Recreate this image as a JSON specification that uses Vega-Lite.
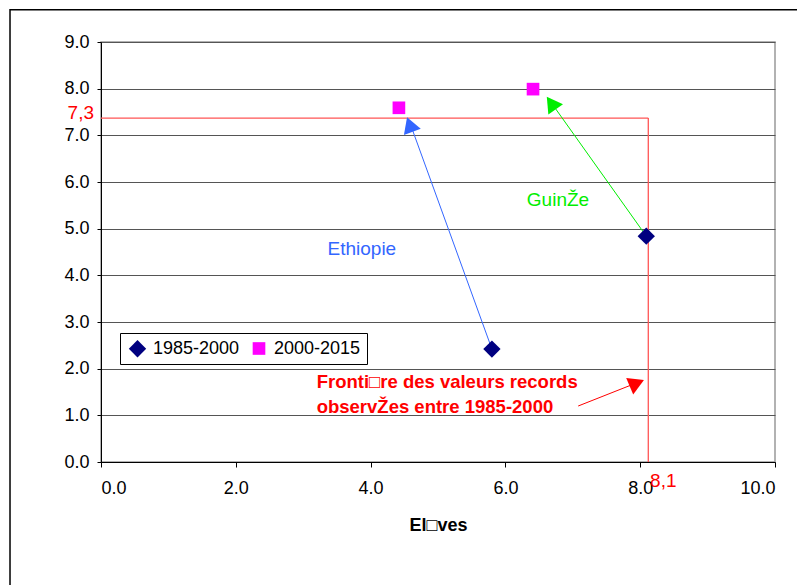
{
  "$schema": "https://vega.github.io/schema/vega-lite/v6.json",
  "width": 674,
  "height": 420,
  "autosize": {"type": "none"},
  "padding": {"left": 101, "top": 42, "right": 22, "bottom": 123},
  "background": "white",
  "config": {
    "font": "Liberation Sans",
    "view": {"stroke": "#999999", "strokeWidth": 1.5}
  },
  "datasets": {
    "pts": [
      {"pays": "Ethiopie", "period": "1985-2000", "x": 5.8, "y": 2.42},
      {"pays": "Ethiopie", "period": "2000-2015", "x": 4.42, "y": 7.59},
      {"pays": "Guinée", "period": "1985-2000", "x": 8.09, "y": 4.84},
      {"pays": "Guinée", "period": "2000-2015", "x": 6.41, "y": 7.99}
    ]
  },
  "layer": [
    {
      "data": {"values": [{"x1": -1.35, "x2": 11, "y1": -3, "y2": 9.69}]},
      "mark": {"type": "rect", "fill": null, "stroke": "#000", "strokeWidth": 1.5, "clip": false},
      "encoding": {
        "x": {"field": "x1", "type": "quantitative", "scale": {"domain": [0, 10], "nice": false},
          "axis": {"values": [0, 2, 4, 6, 8, 10], "format": ".1f", "grid": false, "tickSize": 5, "tickColor": "#000", "domainColor": "#000", "labelFont": "Liberation Sans", "labelFontSize": 18, "labelColor": "#000", "labelPadding": 12, "title": "El□ves", "titleFont": "Liberation Sans", "titleFontSize": 18, "titleFontWeight": "bold", "titleColor": "#000", "titlePadding": 19}},
        "x2": {"field": "x2"},
        "y": {"field": "y1", "type": "quantitative", "scale": {"domain": [0, 9], "nice": false},
          "axis": {"values": [0, 1, 2, 3, 4, 5, 6, 7, 8, 9], "format": ".1f", "grid": true, "gridColor": "#555", "gridWidth": 1, "tickSize": 4, "tickColor": "#000", "domainColor": "#000", "labelFont": "Liberation Sans", "labelFontSize": 18, "labelColor": "#000", "labelPadding": 8, "title": null}},
        "y2": {"field": "y2"}
      }
    },
    {
      "data": {"values": [{"x1": 0, "y1": 7.37, "x2": 8.12, "y2": 7.37}, {"x1": 8.12, "y1": 7.37, "x2": 8.12, "y2": 0}]},
      "mark": {"type": "rule", "color": "#FF5555", "strokeWidth": 1.3},
      "encoding": {
        "x": {"field": "x1", "type": "quantitative"},
        "y": {"field": "y1", "type": "quantitative"},
        "x2": {"field": "x2"},
        "y2": {"field": "y2"}
      }
    },
    {
      "data": {"values": [
        {"g": "Ethiopie", "x1": 5.8, "y1": 2.42, "x2": 4.6, "y2": 7.2},
        {"g": "Guinée", "x1": 8.09, "y1": 4.84, "x2": 6.7, "y2": 7.66},
        {"g": "Frontière", "x1": 7.08, "y1": 1.2, "x2": 7.92, "y2": 1.68}
      ]},
      "mark": {"type": "rule", "strokeWidth": 1},
      "encoding": {
        "x": {"field": "x1", "type": "quantitative"},
        "y": {"field": "y1", "type": "quantitative"},
        "x2": {"field": "x2"},
        "y2": {"field": "y2"},
        "stroke": {"field": "g", "type": "nominal", "scale": {"domain": ["Ethiopie", "Guinée", "Frontière"], "range": ["#3366FF", "#00EE00", "#FF0000"]}, "legend": null}
      }
    },
    {
      "data": {"values": [
        {"g": "Ethiopie", "x": 4.58, "y": 7.23, "ang": 340},
        {"g": "Guinée", "x": 6.68, "y": 7.69, "ang": 325},
        {"g": "Frontière", "x": 7.95, "y": 1.69, "ang": 67}
      ]},
      "mark": {"type": "point", "shape": "triangle-up", "filled": true, "opacity": 1, "size": 320},
      "encoding": {
        "x": {"field": "x", "type": "quantitative"},
        "y": {"field": "y", "type": "quantitative"},
        "angle": {"field": "ang", "type": "quantitative", "scale": null},
        "fill": {"field": "g", "type": "nominal", "scale": {"domain": ["Ethiopie", "Guinée", "Frontière"], "range": ["#3366FF", "#00EE00", "#FF0000"]}, "legend": null}
      }
    },
    {
      "data": {"name": "pts"},
      "mark": {"type": "point", "filled": true, "opacity": 1},
      "encoding": {
        "x": {"field": "x", "type": "quantitative"},
        "y": {"field": "y", "type": "quantitative"},
        "color": {"field": "period", "type": "nominal", "title": null,
          "scale": {"domain": ["1985-2000", "2000-2015"], "range": ["#000080", "#FF00FF"]},
          "legend": {"orient": "none", "legendX": 19, "legendY": 291, "direction": "horizontal", "title": null, "labelFont": "Liberation Sans", "labelFontSize": 18, "labelColor": "#000", "symbolSize": 100, "strokeColor": "#000", "fillColor": "white", "padding": 6, "columnPadding": 8, "symbolOffset": 2, "labelOffset": 6}},
        "shape": {"field": "period", "type": "nominal", "scale": {"domain": ["1985-2000", "2000-2015"], "range": ["diamond", "square"]},
          "legend": {"orient": "none", "legendX": 19, "legendY": 291, "direction": "horizontal", "title": null, "labelFont": "Liberation Sans", "labelFontSize": 18, "labelColor": "#000", "symbolSize": 100, "strokeColor": "#000", "fillColor": "white", "padding": 6, "columnPadding": 8, "symbolOffset": 2, "labelOffset": 6}},
        "size": {"field": "period", "type": "nominal", "scale": {"domain": ["1985-2000", "2000-2015"], "range": [300, 160]}, "legend": null}
      }
    },
    {
      "data": {"values": [
        {"t": "Ethiopie", "x": 3.87, "y": 4.56, "c": "Ethiopie"},
        {"t": "GuinŽe", "x": 6.78, "y": 5.61, "c": "Guinée"}
      ]},
      "mark": {"type": "text", "font": "Liberation Sans", "fontSize": 19, "align": "center", "baseline": "middle"},
      "encoding": {
        "x": {"field": "x", "type": "quantitative"},
        "y": {"field": "y", "type": "quantitative"},
        "text": {"field": "t"},
        "fill": {"field": "c", "type": "nominal", "scale": {"domain": ["Ethiopie", "Guinée", "Frontière"], "range": ["#3366FF", "#00EE00", "#FF0000"]}, "legend": null}
      }
    },
    {
      "data": {"values": [
        {"t": "Fronti□re des valeurs records", "x": 3.2, "y": 1.72},
        {"t": "observŽes entre 1985-2000", "x": 3.2, "y": 1.18}
      ]},
      "mark": {"type": "text", "font": "Liberation Sans", "fontSize": 18.5, "fontWeight": "bold", "align": "left", "baseline": "middle", "color": "#FF0000"},
      "encoding": {
        "x": {"field": "x", "type": "quantitative"},
        "y": {"field": "y", "type": "quantitative"},
        "text": {"field": "t"}
      }
    },
    {
      "data": {"values": [{"t": "7,3", "x": 0, "y": 7.37}]},
      "mark": {"type": "text", "font": "Liberation Sans", "fontSize": 19, "align": "right", "baseline": "middle", "color": "#FF0000", "dx": -7, "dy": -5, "clip": false},
      "encoding": {
        "x": {"field": "x", "type": "quantitative"},
        "y": {"field": "y", "type": "quantitative"},
        "text": {"field": "t"}
      }
    },
    {
      "data": {"values": [{"t": "8,1", "x": 8.12, "y": 0}]},
      "mark": {"type": "text", "font": "Liberation Sans", "fontSize": 19, "align": "center", "baseline": "middle", "color": "#FF0000", "dx": 15, "dy": 19, "clip": false},
      "encoding": {
        "x": {"field": "x", "type": "quantitative"},
        "y": {"field": "y", "type": "quantitative"},
        "text": {"field": "t"}
      }
    }
  ]
}
